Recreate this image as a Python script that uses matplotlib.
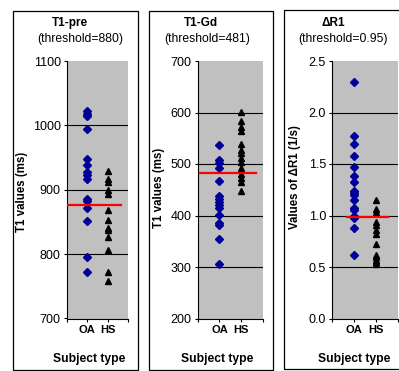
import matplotlib.pyplot as plt
from matplotlib.patches import Rectangle

plt.rcParams['font.family'] = ['Liberation Sans', 'DejaVu Sans']

# data
categories = ["OA", "HS"]

pre_oa = [1022, 1018, 1014, 994, 947, 939, 927, 923, 917, 886, 882, 872, 852, 796, 773]
pre_hs = [929, 917, 912, 900, 894, 869, 853, 841, 837, 826, 806, 773, 759]
pre_cut = 876

gd_oa = [537, 508, 501, 493, 467, 437, 432, 426, 421, 414, 401, 386, 381, 355, 306]
gd_hs = [601, 583, 572, 565, 538, 528, 521, 512, 503, 493, 480, 472, 465, 448]
gd_cut = 483

dr_oa = [2.30, 1.77, 1.69, 1.58, 1.47, 1.38, 1.33, 1.24, 1.22, 1.20, 1.15,
         1.07, 1.05, 1.00, 0.98, 0.88, 0.62]
dr_hs = [1.15, 1.06, 1.03, 0.94, 0.91, 0.86, 0.82, 0.72, 0.62, 0.60, 0.57,
         0.55, 0.53]
dr_cut = 0.99

titles = ["T1-pre", "T1-Gd", "\u0394R1"]
subtitles = ["(threshold=880)", "(threshold=481)", "(threshold=0.95)"]
ylabels = ["T1 values (ms)", "T1 values (ms)", "Values of \u0394R1 (1/s)"]

W, H = 399, 371
fig = plt.figure(figsize=(W / 100, H / 100), dpi=100)

# pixel layout of the three panels
axes_px = [(67, 61, 128, 318.5), (197.7, 61, 263, 318.5), (332.3, 61, 397.7, 318.5)]
boxes_px = [(13, 11, 138, 370), (149, 11, 273, 370), (284, 10, 402, 369)]
ylims = [(700, 1100), (200, 700), (0.0, 2.5)]
yticks = [[700, 800, 900, 1000, 1100], [200, 300, 400, 500, 600, 700],
          [0.0, 0.5, 1.0, 1.5, 2.0, 2.5]]
yfmt = ["{:.0f}", "{:.0f}", "{:.1f}"]
red_x = [(0, 2.67), (0.1, 2.68), (0.67, 2.56)]
title_x = [(70, 80.5), (200.5, 207), (333, 343)]
sub_x = [89, 217.5, 354]
ylab_pos = [(21.7, 192), (159.3, 188), (295, 177)]

oa_list = [pre_oa, gd_oa, dr_oa]
hs_list = [pre_hs, gd_hs, dr_hs]
cut_list = [pre_cut, gd_cut, dr_cut]

for i in range(3):
  x0, y0, x1, y1 = boxes_px[i]
  fig.add_artist(Rectangle((x0 / W, 1 - y1 / H), (x1 - x0) / W, (y1 - y0) / H,
                           transform=fig.transFigure, fill=False,
                           edgecolor="black", lw=0.9))
  l, t, r, b = axes_px[i]
  ax = fig.add_axes([l / W, 1 - b / H, (r - l) / W, (b - t) / H])
  ax.set_facecolor("#c0c0c0")
  ax.set_xlim(0, 3)
  ax.set_ylim(*ylims[i])
  for v in yticks[i][1:-1]:
    ax.axhline(v, color="black", lw=0.8, zorder=1)
  ax.plot([1] * len(oa_list[i]), oa_list[i], "D", color="#000099", ms=3.8,
          mec="#000099", zorder=3, clip_on=False)
  ax.plot([2] * len(hs_list[i]), hs_list[i], "^", color="black", ms=4.8,
          zorder=3, clip_on=False)
  ax.plot(red_x[i], [cut_list[i]] * 2, color="red", lw=1.6, zorder=4)
  for s in ["top", "right"]:
    ax.spines[s].set_visible(False)
  ax.spines["left"].set_linewidth(0.8)
  ax.spines["bottom"].set_linewidth(0.8)
  ax.set_yticks(yticks[i])
  ax.set_yticklabels([yfmt[i].format(v) for v in yticks[i]], fontsize=9)
  ax.set_xticks([0, 1, 2, 3])
  ax.set_xticklabels(["", categories[0], categories[1], ""], fontsize=8,
                     fontweight="bold")
  ax.tick_params(length=2.5, width=0.8, pad=2)
  ax.set_xlabel("")

  fig.text(title_x[i][0] / W, 1 - 22.7 / H, titles[i], ha="center", va="center",
           fontsize=8.5, fontweight="bold")
  fig.text(title_x[i][1] / W, 1 - 39.3 / H, subtitles[i], ha="center",
           va="center", fontsize=8.7)
  fig.text(sub_x[i] / W, 1 - 359 / H, "Subject type", ha="center", va="center",
           fontsize=8.7, fontweight="bold")
  fig.text(ylab_pos[i][0] / W, 1 - ylab_pos[i][1] / H, ylabels[i], ha="center",
           va="center", rotation=90, fontsize=8.3, fontweight="bold")

fig.savefig("out.png", dpi=100)
